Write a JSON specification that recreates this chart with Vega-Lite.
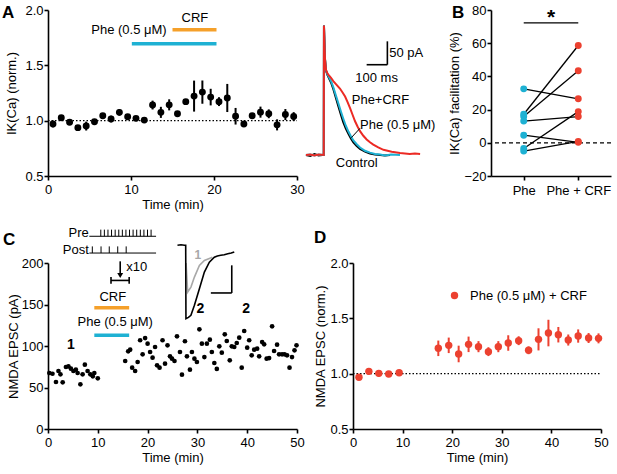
{
 "$schema": "https://vega.github.io/schema/vega-lite/v6.json",
 "padding": {"left": 2, "top": 4, "right": 2, "bottom": 2},
 "config": {
  "font": "Liberation Sans",
  "view": {"stroke": null},
  "axis": {"domainColor": "black", "domainWidth": 1.6, "tickColor": "black", "tickWidth": 1.6, "tickSize": 4, "labelColor": "black", "labelFontSize": 13, "labelFont": "Liberation Sans", "titleFont": "Liberation Sans", "titleFontSize": 13, "titleFontWeight": "normal", "titleColor": "black", "grid": false, "labelFlush": false},
  "axisX": {"labelPadding": 3, "titlePadding": 2},
  "axisY": {"labelPadding": 1, "titlePadding": 4},
  "title": {"font": "Liberation Sans", "fontSize": 17, "fontWeight": "bold", "color": "black", "anchor": "start", "frame": "group", "offset": 0, "baseline": "alphabetic"},
  "text": {"font": "Liberation Sans", "fontSize": 13, "color": "black"},
  "legend": {"labelFont": "Liberation Sans"}
 },
 "datasets": {
  "a": [
   {"t":0.6,"v":0.97,"e":0.03},{"t":1.6,"v":1.027,"e":0.02},{"t":2.6,"v":0.985,"e":0.02},{"t":3.6,"v":0.937,"e":0.02},{"t":4.6,"v":0.951,"e":0.04},
   {"t":5.6,"v":0.991,"e":0.02},{"t":6.6,"v":1.045,"e":0.02},{"t":7.6,"v":1.015,"e":0.03},{"t":8.6,"v":1.075,"e":0.03},{"t":9.6,"v":1.036,"e":0.02},
   {"t":10.6,"v":1.021,"e":0.02},{"t":11.6,"v":1.005,"e":0.02},{"t":12.6,"v":1.141,"e":0.04},{"t":13.6,"v":1.075,"e":0.05},{"t":14.6,"v":1.143,"e":0.05},
   {"t":15.6,"v":1.062,"e":0.02},{"t":16.6,"v":1.172,"e":0.02},{"t":17.6,"v":1.222,"e":0.14},{"t":18.6,"v":1.258,"e":0.105},{"t":19.6,"v":1.213,"e":0.075},
   {"t":20.6,"v":1.172,"e":0.04},{"t":21.6,"v":1.205,"e":0.127},{"t":22.6,"v":1.04,"e":0.075},{"t":23.6,"v":0.97,"e":0.02},{"t":24.6,"v":1.045,"e":0.02},
   {"t":25.6,"v":1.077,"e":0.05},{"t":26.6,"v":1.062,"e":0.04},{"t":27.6,"v":0.962,"e":0.05},{"t":28.6,"v":1.055,"e":0.05},{"t":29.6,"v":1.037,"e":0.04}
  ],
  "tr": [
   {"s":"Control","ms":19,"pA":0},{"s":"Control","ms":40,"pA":-2},{"s":"Control","ms":60,"pA":2},{"s":"Control","ms":80,"pA":-1},{"s":"Control","ms":105,"pA":0},{"s":"Control","ms":106,"pA":277},{"s":"Control","ms":111,"pA":205},{"s":"Control","ms":116,"pA":180},{"s":"Control","ms":122,"pA":172},{"s":"Control","ms":127,"pA":167},{"s":"Control","ms":140,"pA":155},{"s":"Control","ms":151,"pA":141},{"s":"Control","ms":163,"pA":123},{"s":"Control","ms":175,"pA":105},{"s":"Control","ms":187,"pA":87},{"s":"Control","ms":199,"pA":70},{"s":"Control","ms":211,"pA":57},{"s":"Control","ms":224,"pA":45},{"s":"Control","ms":236,"pA":35},{"s":"Control","ms":248,"pA":27},{"s":"Control","ms":264,"pA":19},{"s":"Control","ms":280,"pA":13},{"s":"Control","ms":304,"pA":7},{"s":"Control","ms":328,"pA":3},{"s":"Control","ms":352,"pA":1},{"s":"Control","ms":377,"pA":0},{"s":"Control","ms":400,"pA":-1},{"s":"Control","ms":425,"pA":0},
   {"s":"Phe","ms":19,"pA":0},{"s":"Phe","ms":40,"pA":1},{"s":"Phe","ms":60,"pA":-1},{"s":"Phe","ms":80,"pA":1},{"s":"Phe","ms":105,"pA":0},{"s":"Phe","ms":106,"pA":277},{"s":"Phe","ms":111,"pA":205},{"s":"Phe","ms":116,"pA":181},{"s":"Phe","ms":122,"pA":173},{"s":"Phe","ms":127,"pA":169},{"s":"Phe","ms":140,"pA":158},{"s":"Phe","ms":151,"pA":145},{"s":"Phe","ms":163,"pA":128},{"s":"Phe","ms":175,"pA":111},{"s":"Phe","ms":187,"pA":94},{"s":"Phe","ms":199,"pA":78},{"s":"Phe","ms":211,"pA":63},{"s":"Phe","ms":224,"pA":50},{"s":"Phe","ms":236,"pA":40},{"s":"Phe","ms":248,"pA":31},{"s":"Phe","ms":264,"pA":23},{"s":"Phe","ms":280,"pA":16},{"s":"Phe","ms":304,"pA":9},{"s":"Phe","ms":328,"pA":5},{"s":"Phe","ms":352,"pA":2},{"s":"Phe","ms":377,"pA":1},{"s":"Phe","ms":400,"pA":-1},{"s":"Phe","ms":430,"pA":1},{"s":"Phe","ms":473,"pA":0},
   {"s":"Phe+CRF","ms":19,"pA":0},{"s":"Phe+CRF","ms":40,"pA":1},{"s":"Phe+CRF","ms":60,"pA":-1},{"s":"Phe+CRF","ms":80,"pA":1},{"s":"Phe+CRF","ms":105,"pA":0},{"s":"Phe+CRF","ms":106,"pA":277},{"s":"Phe+CRF","ms":111,"pA":205},{"s":"Phe+CRF","ms":116,"pA":182},{"s":"Phe+CRF","ms":122,"pA":175},{"s":"Phe+CRF","ms":127,"pA":172},{"s":"Phe+CRF","ms":140,"pA":165},{"s":"Phe+CRF","ms":151,"pA":158},{"s":"Phe+CRF","ms":167,"pA":150},{"s":"Phe+CRF","ms":183,"pA":142},{"s":"Phe+CRF","ms":195,"pA":134},{"s":"Phe+CRF","ms":208,"pA":125},{"s":"Phe+CRF","ms":220,"pA":113},{"s":"Phe+CRF","ms":232,"pA":100},{"s":"Phe+CRF","ms":244,"pA":86},{"s":"Phe+CRF","ms":256,"pA":72},{"s":"Phe+CRF","ms":268,"pA":61},{"s":"Phe+CRF","ms":280,"pA":51},{"s":"Phe+CRF","ms":296,"pA":41},{"s":"Phe+CRF","ms":312,"pA":33},{"s":"Phe+CRF","ms":328,"pA":27},{"s":"Phe+CRF","ms":344,"pA":22},{"s":"Phe+CRF","ms":368,"pA":16},{"s":"Phe+CRF","ms":393,"pA":11},{"s":"Phe+CRF","ms":433,"pA":7},{"s":"Phe+CRF","ms":473,"pA":4},{"s":"Phe+CRF","ms":520,"pA":2},{"s":"Phe+CRF","ms":545,"pA":3},{"s":"Phe+CRF","ms":570,"pA":2}
  ],
  "b": [
   {"cell":1,"cond":"Phe","val":32.5},{"cell":1,"cond":"Phe + CRF","val":26.5},
   {"cell":2,"cond":"Phe","val":17.2},{"cell":2,"cond":"Phe + CRF","val":58.6},
   {"cell":3,"cond":"Phe","val":15.8},{"cell":3,"cond":"Phe + CRF","val":43.4},
   {"cell":4,"cond":"Phe","val":13.1},{"cell":4,"cond":"Phe + CRF","val":15.8},
   {"cell":5,"cond":"Phe","val":4.6},{"cell":5,"cond":"Phe + CRF","val":0.3},
   {"cell":6,"cond":"Phe","val":-3.4},{"cell":6,"cond":"Phe + CRF","val":18.8},
   {"cell":7,"cond":"Phe","val":-5.0},{"cell":7,"cond":"Phe + CRF","val":0.8}
  ],
  "c": [
   {"t":0.27,"v":67.5},{"t":0.9,"v":66.6},{"t":1.6,"v":56.6},{"t":2.1,"v":69.9},{"t":2.5,"v":65.9},{"t":2.95,"v":56.2},{"t":3.6,"v":74.7},{"t":4.1,"v":75.5},{"t":4.6,"v":72.7},{"t":5.1,"v":69.9},
   {"t":5.6,"v":71.5},{"t":5.95,"v":67.5},{"t":6.5,"v":53.8},{"t":6.95,"v":65.9},{"t":7.4,"v":77.5},{"t":7.95,"v":69.9},{"t":8.5,"v":65.9},{"t":9.0,"v":63.5},{"t":9.3,"v":67.5},{"t":10.0,"v":61.0},
   {"t":15.5,"v":81.9},{"t":16.1,"v":93.6},{"t":16.5,"v":95.6},{"t":16.9,"v":73.9},{"t":17.5,"v":69.9},{"t":18.0,"v":80.7},{"t":18.5,"v":106.9},{"t":19.0,"v":90},{"t":19.5,"v":109.6},{"t":20.0,"v":102.8},
   {"t":20.5,"v":92.8},{"t":21.0,"v":85.9},{"t":21.5,"v":98.8},{"t":21.9,"v":76.7},{"t":22.4,"v":73.9},{"t":23.0,"v":106.9},{"t":23.5,"v":78.7},{"t":24.0,"v":100.8},{"t":24.5,"v":87.6},{"t":24.9,"v":84.7},
   {"t":25.4,"v":81.9},{"t":25.9,"v":111.7},{"t":26.5,"v":92.8},{"t":26.9,"v":65.5},{"t":27.5,"v":105.7},{"t":27.9,"v":87.6},{"t":28.5,"v":71.5},{"t":28.9,"v":92.8},{"t":29.4,"v":84.7},{"t":29.9,"v":80.7},
   {"t":30.4,"v":120.1},{"t":30.9,"v":102.8},{"t":31.4,"v":86.7},{"t":31.9,"v":102.8},{"t":32.5,"v":107.6},{"t":32.9,"v":92.8},{"t":33.4,"v":79.5},{"t":33.9,"v":72.4},{"t":34.4,"v":99.6},{"t":34.9,"v":92},
   {"t":35.5,"v":114.1},{"t":35.9,"v":106},{"t":36.5,"v":82.7},{"t":36.9,"v":99.6},{"t":37.4,"v":98.8},{"t":37.9,"v":103.6},{"t":38.4,"v":110},{"t":38.9,"v":73.9},{"t":39.4,"v":118.1},{"t":40.0,"v":98},
   {"t":40.4,"v":106.9},{"t":40.9,"v":88.8},{"t":41.4,"v":95.6},{"t":42.0,"v":96.8},{"t":42.4,"v":87.6},{"t":43.0,"v":104.8},{"t":43.4,"v":102},{"t":43.9,"v":84.7},{"t":44.4,"v":85.5},{"t":45.0,"v":123.7},
   {"t":45.4,"v":94},{"t":46.0,"v":101.6},{"t":46.4,"v":90},{"t":47.0,"v":90},{"t":47.5,"v":90},{"t":48.0,"v":88.8},{"t":48.5,"v":73.9},{"t":49.0,"v":86.7},{"t":49.5,"v":94.8},{"t":49.9,"v":100.8}
  ],
  "d": [
   {"t":1.2,"v":0.967,"e":0.02},{"t":3.2,"v":1.021,"e":0.03},{"t":5.2,"v":1.003,"e":0.03},{"t":7.2,"v":0.997,"e":0.02},{"t":9.3,"v":1.009,"e":0.02},
   {"t":17.2,"v":1.229,"e":0.07},{"t":19.3,"v":1.256,"e":0.07},{"t":21.3,"v":1.178,"e":0.075},{"t":23.3,"v":1.265,"e":0.07},{"t":25.3,"v":1.244,"e":0.05},
   {"t":27.3,"v":1.199,"e":0.04},{"t":29.3,"v":1.244,"e":0.05},{"t":31.3,"v":1.277,"e":0.07},{"t":33.4,"v":1.298,"e":0.04},{"t":35.4,"v":1.211,"e":0.035},
   {"t":37.4,"v":1.31,"e":0.1},{"t":39.4,"v":1.367,"e":0.12},{"t":41.4,"v":1.352,"e":0.07},{"t":43.4,"v":1.304,"e":0.05},{"t":45.4,"v":1.34,"e":0.06},
   {"t":47.5,"v":1.322,"e":0.045},{"t":49.5,"v":1.319,"e":0.045}
  ]
 },
 "spacing": 16,
 "resolve": {"scale": {"color": "independent"}, "legend": {"color": "independent"}},
 "vconcat": [
  {
   "bounds": "flush",
   "spacing": 5,
   "resolve": {"scale": {"color": "independent"}, "legend": {"color": "independent"}},
   "hconcat": [
    {
     "width": 249, "height": 166,
     "title": {"text": "A", "dx": -46, "dy": 22},
     "encoding": {
      "x": {"field": "t", "type": "quantitative", "scale": {"domain": [0, 30], "nice": false, "zero": false}, "axis": {"title": "Time (min)", "values": [0, 10, 20, 30]}},
      "y": {"field": "v", "type": "quantitative", "scale": {"domain": [0.5, 2.0], "nice": false, "zero": false}, "axis": {"title": "IK(Ca) (norm.)", "values": [0.5, 1.0, 1.5, 2.0], "format": ".1f", "titlePadding": 6}}
     },
     "layer": [
      {"data": {"values": [{"t": 0, "t2": 30, "v": 1}]}, "mark": {"type": "rule", "strokeDash": [1.5, 2], "strokeWidth": 1.2, "color": "black"}, "encoding": {"x2": {"field": "t2"}}},
      {"data": {"name": "a"}, "mark": {"type": "errorbar", "color": "black", "thickness": 2}, "encoding": {"yError": {"field": "e"}}},
      {"data": {"name": "a"}, "mark": {"type": "point", "filled": true, "size": 48, "opacity": 1, "color": "black"}},
      {"data": {"values": [{"t": 10.1, "t2": 20.3, "v": 1.696}]}, "mark": {"type": "rule", "strokeWidth": 3.5, "color": "#1eb1d3"}, "encoding": {"x2": {"field": "t2"}}},
      {"data": {"values": [{"t": 15.0, "t2": 20.3, "v": 1.822}]}, "mark": {"type": "rule", "strokeWidth": 3.5, "color": "#f5a02a"}, "encoding": {"x2": {"field": "t2"}}},
      {"data": {"values": [{"t": 17.7, "v": 1.924, "label": "CRF"}]}, "mark": {"type": "text", "align": "center", "baseline": "middle"}, "encoding": {"text": {"field": "label"}}},
      {"data": {"values": [{"t": 14.3, "v": 1.816, "label": "Phe (0.5 μM)"}]}, "mark": {"type": "text", "align": "right", "baseline": "middle"}, "encoding": {"text": {"field": "label"}}}
     ]
    },
    {
     "width": 184, "height": 166,
     "encoding": {
      "x": {"field": "ms", "type": "quantitative", "scale": {"domain": [0, 888], "nice": false, "zero": false}, "axis": null},
      "y": {"field": "pA", "type": "quantitative", "scale": {"domain": [-45, 310], "nice": false, "zero": false}, "axis": null}
     },
     "layer": [
      {"data": {"name": "tr"}, "mark": {"type": "line", "strokeWidth": 2}, "encoding": {"color": {"field": "s", "type": "nominal", "scale": {"domain": ["Control", "Phe", "Phe+CRF"], "range": ["black", "#1eb1d3", "#ec2a24"]}, "legend": null}}},
      {"data": {"values": [{"ms": 412, "pA": 193, "ms2": 412, "pA2": 243}, {"ms": 312, "pA": 193, "ms2": 412, "pA2": 193}]}, "mark": {"type": "rule", "strokeWidth": 1.6, "color": "black"}, "encoding": {"x2": {"field": "ms2"}, "y2": {"field": "pA2"}}},
      {"data": {"values": [{"ms": 280, "pA": 57, "ms2": 238, "pA2": 37}]}, "mark": {"type": "rule", "strokeWidth": 1, "color": "black"}, "encoding": {"x2": {"field": "ms2"}, "y2": {"field": "pA2"}}},
      {"data": {"values": [{"ms": 421, "pA": 218, "label": "50 pA"}, {"ms": 240, "pA": 118, "label": "Phe+CRF"}, {"ms": 280, "pA": 63, "label": "Phe (0.5 μM)"}]}, "mark": {"type": "text", "align": "left", "baseline": "middle"}, "encoding": {"text": {"field": "label"}}},
      {"data": {"values": [{"ms": 360, "pA": 165, "label": "100 ms"}, {"ms": 264, "pA": -17, "label": "Control"}]}, "mark": {"type": "text", "align": "center", "baseline": "middle"}, "encoding": {"text": {"field": "label"}}}
     ]
    },
    {
     "width": 120, "height": 166,
     "title": {"text": "B", "dx": -39, "dy": 22},
     "encoding": {
      "y": {"field": "val", "type": "quantitative", "scale": {"domain": [-20, 80], "nice": false}, "axis": {"title": "IK(Ca) facilitation (%)", "values": [-20, 0, 20, 40, 60, 80], "titlePadding": 2}}
     },
     "layer": [
      {"data": {"values": [{"val": 0}]}, "mark": {"type": "rule", "strokeDash": [4, 3], "strokeWidth": 1.3, "color": "black"}},
      {"data": {"name": "b"}, "mark": {"type": "line", "color": "black", "strokeWidth": 1.3},
       "encoding": {
        "x": {"field": "cond", "type": "nominal", "scale": {"type": "point", "domain": ["Phe", "Phe + CRF"], "padding": 0.6}, "axis": {"title": null, "labelAngle": 0, "labelPadding": 4}},
        "detail": {"field": "cell"}}},
      {"data": {"name": "b"}, "mark": {"type": "point", "filled": true, "size": 48, "opacity": 1},
       "encoding": {
        "x": {"field": "cond", "type": "nominal", "scale": {"type": "point", "domain": ["Phe", "Phe + CRF"], "padding": 0.6}, "axis": {"title": null, "labelAngle": 0, "labelPadding": 4}},
        "color": {"field": "cond", "type": "nominal", "scale": {"domain": ["Phe", "Phe + CRF"], "range": ["#1eb1d3", "#ec4130"]}, "legend": null}}},
      {"data": {"values": [{"val": 72.3}]}, "mark": {"type": "rule", "strokeWidth": 1.3, "color": "black"},
       "encoding": {"x": {"datum": "Phe", "type": "nominal", "axis": {"title": null, "labelAngle": 0, "labelPadding": 4}}, "x2": {"datum": "Phe + CRF"}}},
      {"data": {"values": [{"val": 71.5}]}, "mark": {"type": "text", "text": "*", "fontSize": 21, "fontWeight": "bold", "dx": 27.3, "align": "center", "baseline": "alphabetic"},
       "encoding": {"x": {"datum": "Phe", "type": "nominal", "axis": {"title": null, "labelAngle": 0, "labelPadding": 4}}}}
     ]
    }
   ]
  },
  {
   "bounds": "flush",
   "spacing": 56,
   "resolve": {"scale": {"color": "independent"}, "legend": {"color": "independent"}},
   "hconcat": [
    {
     "width": 249, "height": 166,
     "title": {"text": "C", "dx": -45, "dy": 26},
     "encoding": {
      "x": {"field": "t", "type": "quantitative", "scale": {"domain": [0, 50], "nice": false, "zero": false}, "axis": {"title": "Time (min)", "values": [0, 10, 20, 30, 40, 50]}},
      "y": {"field": "v", "type": "quantitative", "scale": {"domain": [0, 200], "nice": false, "zero": false}, "axis": {"title": "NMDA EPSC (pA)", "values": [0, 50, 100, 150, 200], "titlePadding": 1}}
     },
     "layer": [
      {"data": {"name": "c"}, "mark": {"type": "point", "filled": true, "size": 22, "opacity": 1, "color": "black"}},
      {"data": {"values": [
        {"t": 8.3, "t2": 21.7, "v": 232.2, "v2": 232.2}, {"t": 8.3, "t2": 21.7, "v": 212, "v2": 212},
        {"t": 10.6, "t2": 10.6, "v": 232.2, "v2": 240.2}, {"t": 11.32, "t2": 11.32, "v": 232.2, "v2": 240.2}, {"t": 12.04, "t2": 12.04, "v": 232.2, "v2": 240.2}, {"t": 12.76, "t2": 12.76, "v": 232.2, "v2": 240.2}, {"t": 13.49, "t2": 13.49, "v": 232.2, "v2": 240.2},
        {"t": 14.21, "t2": 14.21, "v": 232.2, "v2": 240.2}, {"t": 14.93, "t2": 14.93, "v": 232.2, "v2": 240.2}, {"t": 15.65, "t2": 15.65, "v": 232.2, "v2": 240.2}, {"t": 16.37, "t2": 16.37, "v": 232.2, "v2": 240.2}, {"t": 17.09, "t2": 17.09, "v": 232.2, "v2": 240.2},
        {"t": 17.81, "t2": 17.81, "v": 232.2, "v2": 240.2}, {"t": 18.54, "t2": 18.54, "v": 232.2, "v2": 240.2}, {"t": 19.26, "t2": 19.26, "v": 232.2, "v2": 240.2}, {"t": 19.98, "t2": 19.98, "v": 232.2, "v2": 240.2}, {"t": 20.7, "t2": 20.7, "v": 232.2, "v2": 240.2},
        {"t": 8.9, "t2": 8.9, "v": 212, "v2": 220}, {"t": 10.65, "t2": 10.65, "v": 212, "v2": 220}, {"t": 12.3, "t2": 12.3, "v": 212, "v2": 220}, {"t": 14.0, "t2": 14.0, "v": 212, "v2": 220}, {"t": 15.7, "t2": 15.7, "v": 212, "v2": 220}
       ]}, "mark": {"type": "rule", "strokeWidth": 1, "color": "black"}, "encoding": {"x2": {"field": "t2"}, "y2": {"field": "v2"}}},
      {"data": {"values": [
        {"t": 14.5, "t2": 14.5, "v": 202, "v2": 186}, {"t": 12.65, "t2": 16.3, "v": 179, "v2": 179},
        {"t": 12.65, "t2": 12.65, "v": 175, "v2": 183}, {"t": 16.3, "t2": 16.3, "v": 175, "v2": 183}
       ]}, "mark": {"type": "rule", "strokeWidth": 1.6, "color": "black"}, "encoding": {"x2": {"field": "t2"}, "y2": {"field": "v2"}}},
      {"data": {"values": [{"t": 14.5, "v": 185}]}, "mark": {"type": "point", "shape": "triangle-down", "filled": true, "size": 35, "opacity": 1, "color": "black"}},
      {"data": {"values": [{"t": 9.3, "t2": 16.3, "v": 146.1}]}, "mark": {"type": "rule", "strokeWidth": 3.5, "color": "#f5a02a"}, "encoding": {"x2": {"field": "t2"}}},
      {"data": {"values": [{"t": 9.3, "t2": 16.3, "v": 112.9}]}, "mark": {"type": "rule", "strokeWidth": 3.5, "color": "#1eb1d3"}, "encoding": {"x2": {"field": "t2"}}},
      {"data": {"values": [{"t": 8.2, "v": 236, "label": "Pre"}, {"t": 8.2, "v": 216, "label": "Post"}]}, "mark": {"type": "text", "align": "right", "baseline": "middle"}, "encoding": {"text": {"field": "label"}}},
      {"data": {"values": [{"t": 15.7, "v": 195.5, "label": "x10"}]}, "mark": {"type": "text", "align": "left", "baseline": "middle"}, "encoding": {"text": {"field": "label"}}},
      {"data": {"values": [{"t": 13.0, "v": 159, "label": "CRF"}, {"t": 13.5, "v": 128.9, "label": "Phe (0.5 μM)"}]}, "mark": {"type": "text", "align": "center", "baseline": "middle"}, "encoding": {"text": {"field": "label"}}},
      {"data": {"values": [{"t": 4.6, "v": 101, "label": "1"}, {"t": 30.6, "v": 144.2, "label": "2"}, {"t": 39.8, "v": 144.2, "label": "2"}]}, "mark": {"type": "text", "align": "center", "baseline": "middle", "fontWeight": "bold", "fontSize": 14}, "encoding": {"text": {"field": "label"}}},
      {"data": {"values": [{"t": 30.1, "v": 209.3, "label": "1"}]}, "mark": {"type": "text", "align": "center", "baseline": "middle", "fontWeight": "bold", "fontSize": 12, "color": "#a8a8a8"}, "encoding": {"text": {"field": "label"}}},
      {"data": {"values": [
        {"t": 27.72, "v": 200}, {"t": 28.05, "v": 165}, {"t": 28.7, "v": 171}, {"t": 29.4, "v": 183}, {"t": 30.4, "v": 197}, {"t": 31.4, "v": 203}, {"t": 32.4, "v": 205.5}, {"t": 33.0, "v": 207}
       ]}, "mark": {"type": "line", "strokeWidth": 1.6, "color": "#a8a8a8"}},
      {"data": {"values": [
        {"t": 26.0, "v": 221.3}, {"t": 26.7, "v": 222}, {"t": 27.4, "v": 221.3}, {"t": 27.65, "v": 221.3}, {"t": 27.7, "v": 133}, {"t": 28.2, "v": 134.5}, {"t": 28.7, "v": 137}, {"t": 29.4, "v": 149},
        {"t": 30.4, "v": 169}, {"t": 31.4, "v": 189}, {"t": 32.4, "v": 201}, {"t": 33.4, "v": 207}, {"t": 34.0, "v": 208.5}, {"t": 34.7, "v": 209.3}, {"t": 35.4, "v": 210}, {"t": 36.1, "v": 211.2}, {"t": 36.8, "v": 212}, {"t": 37.4, "v": 213.3}
       ]}, "mark": {"type": "line", "strokeWidth": 1.6, "color": "black"}},
      {"data": {"values": [{"t": 36.9, "t2": 36.9, "v": 163.9, "v2": 197.2}, {"t": 32.7, "t2": 36.9, "v": 163.9, "v2": 163.9}]}, "mark": {"type": "rule", "strokeWidth": 1.6, "color": "black"}, "encoding": {"x2": {"field": "t2"}, "y2": {"field": "v2"}}}
     ]
    },
    {
     "width": 248, "height": 166,
     "title": {"text": "D", "dx": -39, "dy": -6},
     "encoding": {
      "x": {"field": "t", "type": "quantitative", "scale": {"domain": [0, 50], "nice": false, "zero": false}, "axis": {"title": "Time (min)", "values": [0, 10, 20, 30, 40, 50]}},
      "y": {"field": "v", "type": "quantitative", "scale": {"domain": [0.5, 2.0], "nice": false, "zero": false}, "axis": {"title": "NMDA EPSC (norm.)", "values": [0.5, 1.0, 1.5, 2.0], "format": ".1f", "titlePadding": 2}}
     },
     "layer": [
      {"data": {"values": [{"t": 0, "t2": 50, "v": 1}]}, "mark": {"type": "rule", "strokeDash": [1.5, 2], "strokeWidth": 1.2, "color": "black"}, "encoding": {"x2": {"field": "t2"}}},
      {"data": {"name": "d"}, "mark": {"type": "errorbar", "color": "#ec4130", "thickness": 2}, "encoding": {"yError": {"field": "e"}}},
      {"data": {"name": "d"}, "mark": {"type": "point", "filled": true, "size": 55, "opacity": 1},
       "encoding": {"color": {"datum": "Phe (0.5 μM) + CRF", "type": "nominal", "scale": {"range": ["#ec4130"]}, "legend": {"title": null, "orient": "none", "legendX": 95, "legendY": 26, "labelFontSize": 13, "labelColor": "black", "symbolSize": 55, "symbolType": "circle", "symbolOpacity": 1, "padding": 0, "labelOffset": 9}}}}
     ]
    }
   ]
  }
 ]
}
